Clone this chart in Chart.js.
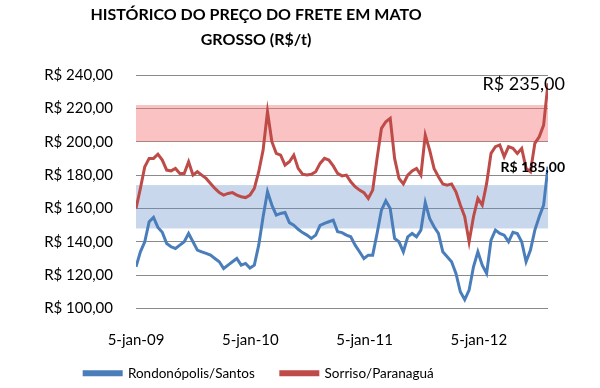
<!DOCTYPE html>
<html>
<head>
<meta charset="utf-8">
<script src="https://cdn.jsdelivr.net/npm/chart.js@4/dist/chart.umd.min.js"></script>
<style>
  body { margin: 0; background: #fff; }
  #grafico { display: block; }
</style>
</head>
<body>
<canvas id="grafico" width="600" height="388"></canvas>
<script>
// Título e rótulos
const titulo = ['HISTÓRICO DO PREÇO DO FRETE EM MATO', 'GROSSO (R$/t)'];
const series = ['Rondonópolis/Santos', 'Sorriso/Paranaguá'];
const ticksX = ['5-jan-09', '5-jan-10', '5-jan-11', '5-jan-12'];
const diasTicksX = [0, 365, 730, 1095];

// Valores quinzenais a partir de 5-jan-09 (R$/t)
const rondonopolisSantos = [
  125, 134, 140, 152, 154.6, 148.6, 145.7, 139, 137, 136,
  138, 140, 145, 140, 135, 134, 133, 132, 130, 128,
  124, 126, 128, 130, 126, 127, 124.3, 126, 138, 155,
  170, 162, 156, 157, 157.6, 151.5, 150, 147.5, 145.5, 144,
  142, 144, 149.8, 151, 152, 153, 146, 145.5, 144, 143,
  138, 134, 130, 132, 132, 145, 159, 164.6, 160, 142,
  140, 134, 143, 145, 143, 147, 163.5, 154, 149, 145,
  134, 131, 128, 121, 110, 105.3, 111, 125, 134, 126,
  121, 141, 147, 145, 144, 140, 145.7, 145, 140, 128,
  135, 147, 155, 162, 185
];
const sorrisoParanagua = [
  160, 172, 185, 190, 190, 192.5, 189, 183, 182.5, 184,
  181, 181, 188, 180, 182, 180, 178, 175, 172, 169.5,
  168, 169, 169.5, 168, 167, 166.5, 168, 172, 182, 195,
  218, 200, 193, 192, 186, 188, 192, 184, 180.5, 180,
  180.5, 182, 187, 190, 189, 185.5, 181, 179.5, 180, 176,
  173, 171, 169.5, 166, 171, 190, 208, 212, 214, 190,
  178, 174.7, 180, 182.5, 184, 180, 204, 195, 184, 179,
  174.7, 174, 174.7, 170, 162, 155, 140, 155, 166, 162,
  175, 193, 197, 198, 191, 197, 196, 193, 196, 184,
  182, 199, 203, 210, 235
];

// Faixas de referência [mínimo, máximo]
const faixaVermelha = [200, 222];
const faixaAzul = [148, 174];

// Anotações no último ponto
const anotacoes = [
  { serie: 1, texto: 'R$ 235,00', fonte: '18px Lato' },
  { serie: 0, texto: 'R$ 185,00', fonte: 'bold 14px Lato' }
];

const corAzul = '#4A7EBB';
const corVermelha = '#BE4B48';

function pontos(valores) {
  return valores.map((v, i) => ({ x: i * 14, y: v }));
}

function formatarReal(v) {
  return 'R$ ' + v.toFixed(2).replace('.', ',');
}

// Desenha o título em duas linhas
const pluginTitulo = {
  id: 'titulo',
  afterDraw(chart) {
    const ctx = chart.ctx;
    ctx.save();
    ctx.fillStyle = '#000';
    ctx.font = 'bold 16px Lato';
    ctx.textAlign = 'center';
    ctx.textBaseline = 'middle';
    titulo.forEach((linha, i) => ctx.fillText(linha, 256, 15 + i * 25));
    ctx.restore();
  }
};

// Legenda: espaço grande entre itens, mas pouco acima deles
const pluginLegenda = {
  id: 'ajusteLegenda',
  afterInit(chart) {
    const legenda = chart.legend;
    const fitOriginal = legenda.fit.bind(legenda);
    legenda.fit = function () {
      fitOriginal();
      this.height -= 21;
    };
  },
  afterLayout(chart) {
    const legenda = chart.legend;
    legenda.top -= 24;
    legenda.height += 24;
    legenda.left -= 15;
    legenda.right -= 15;
  }
};

// Faixas coloridas atrás das linhas
const pluginFaixas = {
  id: 'faixas',
  beforeDatasetsDraw(chart) {
    const { ctx, chartArea, scales } = chart;
    const y = scales.y;
    ctx.save();
    [[faixaVermelha, 'rgba(245,120,120,0.45)'], [faixaAzul, 'rgba(100,140,200,0.35)']].forEach(([f, cor]) => {
      const topo = y.getPixelForValue(f[1]);
      const base = y.getPixelForValue(f[0]);
      ctx.fillStyle = cor;
      ctx.fillRect(chartArea.left, topo, chartArea.right - chartArea.left, base - topo);
    });
    ctx.restore();
  }
};

// Rótulos de valor final
const pluginAnotacoes = {
  id: 'anotacoes',
  afterDatasetsDraw(chart) {
    const ctx = chart.ctx;
    ctx.save();
    ctx.fillStyle = '#000';
    ctx.textAlign = 'right';
    ctx.textBaseline = 'middle';
    anotacoes.forEach(a => {
      const meta = chart.getDatasetMeta(a.serie);
      const p = meta.data[meta.data.length - 1];
      ctx.font = a.fonte;
      ctx.fillText(a.texto, p.x + 17, p.y + 1);
    });
    ctx.restore();
  }
};

const ctx = document.getElementById('grafico').getContext('2d');
new Chart(ctx, {
  type: 'line',
  data: {
    datasets: [
      {
        label: series[0],
        data: pontos(rondonopolisSantos),
        borderColor: corAzul,
        backgroundColor: corAzul,
        borderWidth: 3,
        pointRadius: 0,
        fill: false
      },
      {
        label: series[1],
        data: pontos(sorrisoParanagua),
        borderColor: corVermelha,
        backgroundColor: corVermelha,
        borderWidth: 3,
        pointRadius: 0,
        fill: false
      }
    ]
  },
  options: {
    responsive: false,
    animation: false,
    layout: { padding: { top: 75, right: 52, left: 0, bottom: -5 } },
    scales: {
      x: {
        type: 'linear',
        min: 0,
        max: (rondonopolisSantos.length - 1) * 14,
        afterBuildTicks(scale) {
          scale.ticks = diasTicksX.map(v => ({ value: v }));
        },
        grid: { display: false },
        border: { display: false },
        ticks: {
          color: '#000',
          font: { family: 'Lato', size: 15 },
          padding: 15,
          maxRotation: 0,
          autoSkip: false,
          callback: v => ticksX[diasTicksX.indexOf(v)]
        }
      },
      y: {
        min: 100,
        max: 240,
        afterFit(scale) { scale.width = 136; },
        grid: { color: '#8a8a8a', lineWidth: 1, drawTicks: false },
        border: { display: false },
        ticks: {
          stepSize: 20,
          color: '#000',
          font: { family: 'Lato', size: 15 },
          padding: 23,
          callback: v => formatarReal(v)
        }
      }
    },
    plugins: {
      title: { display: false },
      tooltip: { enabled: false },
      legend: {
        position: 'bottom',
        labels: {
          color: '#000',
          font: { family: 'Lato', size: 13.5 },
          boxWidth: 37,
          boxHeight: 3,
          padding: 26
        }
      }
    }
  },
  plugins: [pluginTitulo, pluginLegenda, pluginFaixas, pluginAnotacoes]
});
</script>
</body>
</html>
